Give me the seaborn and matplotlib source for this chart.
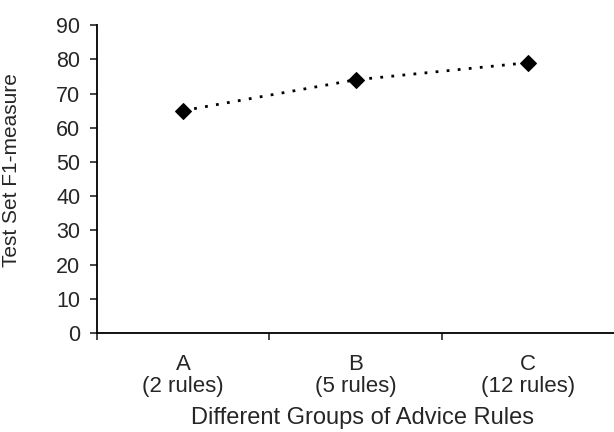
import numpy as np
import pandas as pd
import matplotlib.pyplot as plt
import seaborn as sns

sns.set_style('white')
plt.rcParams['font.family'] = ['Liberation Sans', 'DejaVu Sans']

groups = ['A', 'B', 'C']
rule_counts = ['(2 rules)', '(5 rules)', '(12 rules)']
f1 = [65, 74, 79]

df = pd.DataFrame({'pos': np.arange(len(groups)), 'f1': f1})

fig = plt.figure(figsize=(6.14, 4.32), dpi=100)
ax = fig.add_axes([0.158, 0.229, 0.842, 0.713])

sns.lineplot(data=df, x='pos', y='f1', ax=ax, color='black', dashes=False,
             linewidth=2, marker='D', markersize=8, markeredgecolor='black')
ax.lines[0].set_dashes((1, 3))

ax.set_xlim(-0.5, 2.5)
ax.set_ylim(0, 90)
ax.set_yticks(range(0, 91, 10))
ax.set_xticks(df['pos'])
ax.set_xticklabels([g + '\n' + r for g, r in zip(groups, rule_counts)], fontsize=16,
                   linespacing=1.05)
ax.set_xticks([-0.5, 0.5, 1.5], minor=True)
ax.tick_params(axis='x', which='major', length=0, pad=15)
ax.tick_params(axis='x', which='minor', length=5, width=1.2, direction='out', bottom=True)
ax.tick_params(axis='y', length=5, width=1.2, direction='out', left=True, labelsize=15.5, pad=7)

for s in ['top', 'right']:
    ax.spines[s].set_visible(False)
for s in ['left', 'bottom']:
    ax.spines[s].set_color('black')
    ax.spines[s].set_linewidth(1.3)

ax.set_xlabel('Different Groups of Advice Rules', fontsize=17)
ax.xaxis.set_label_coords(0.514, -0.24)
ax.set_ylabel('Test Set F1-measure', fontsize=15)
ax.yaxis.set_label_coords(-0.147, 0.53)

fig.savefig('out.png', dpi=100, facecolor='white')
